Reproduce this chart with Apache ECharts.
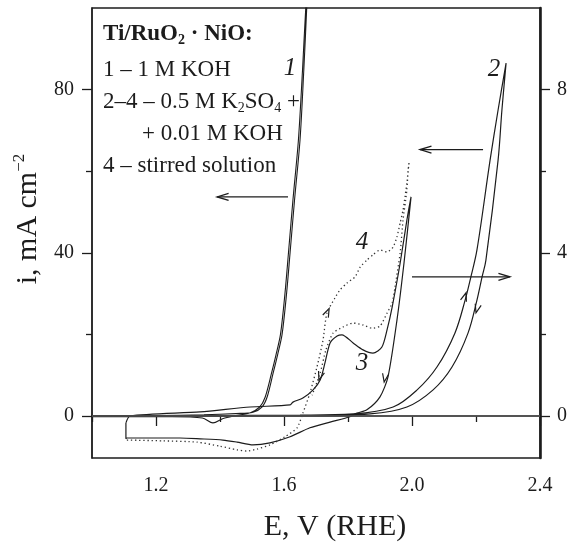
<!DOCTYPE html>
<html>
<head>
<meta charset="utf-8">
<script src="https://cdn.jsdelivr.net/npm/echarts@6/dist/echarts.min.js"></script>
<style>
html, body { margin: 0; padding: 0; background: #fff; }
#chart { width: 570px; height: 542px; }
</style>
</head>
<body>
<div id="chart"></div>
<script>
// E, V (RHE) against i. Curves 1 and 2 are read on the left axis (mA cm-2),
// curves 3 and 4 on the right axis (ten times smaller scale).
var curve1 = [
	[1.000, 0.0], [1.200, 0.1], [1.350, 0.3], [1.450, 0.6], [1.503, 0.9], [1.531, 2.2], [1.547, 4.6],
	[1.566, 10.5], [1.580, 15.0], [1.594, 20.0], [1.608, 30.0], [1.619, 40.0], [1.633, 53.0],
	[1.650, 67.6], [1.662, 85.0], [1.671, 100.0], [1.674, 106.0],
	[1.668, 100.0], [1.658, 85.0], [1.645, 67.6], [1.628, 53.0], [1.614, 40.0], [1.603, 30.0],
	[1.589, 20.0], [1.575, 15.0], [1.561, 10.5], [1.541, 4.6], [1.524, 2.2], [1.495, 0.8],
	[1.450, 0.1], [1.410, -0.6], [1.378, -1.7], [1.345, -0.5], [1.250, -0.2], [1.000, -0.2]
];
var curve2 = [
	[1.000, 0.0], [1.300, 0.1], [1.650, 0.2], [1.816, 0.5], [1.941, 2.2], [2.016, 6.4], [2.078, 12.0],
	[2.134, 20.3], [2.166, 28.4], [2.184, 34.1], [2.203, 40.7], [2.244, 62.7], [2.269, 75.0], [2.294, 86.5],
	[2.281, 75.0], [2.269, 62.7], [2.231, 38.2], [2.219, 34.1], [2.203, 28.4], [2.175, 20.3],
	[2.125, 12.0], [2.066, 6.4], [1.984, 2.2], [1.869, 0.5], [1.650, 0.0], [1.000, -0.1]
];
var curve3 = [
	[1.106, -0.17], [1.119, 0.00], [1.338, 0.10], [1.494, 0.22], [1.619, 0.27], [1.628, 0.34],
	[1.659, 0.44], [1.691, 0.64], [1.713, 0.88], [1.728, 1.30], [1.744, 1.79], [1.766, 1.96],
	[1.781, 1.99], [1.816, 1.79], [1.847, 1.62], [1.878, 1.54], [1.906, 1.69], [1.922, 2.11],
	[1.938, 2.67], [1.963, 3.75], [1.984, 4.80], [1.997, 5.37],
	[1.975, 3.75], [1.953, 2.35], [1.925, 0.96], [1.900, 0.47], [1.859, 0.15], [1.828, 0.07],
	[1.806, -0.02], [1.744, -0.15], [1.681, -0.29], [1.619, -0.51], [1.556, -0.66], [1.503, -0.71],
	[1.453, -0.64], [1.409, -0.59], [1.338, -0.56], [1.275, -0.54], [1.109, -0.54], [1.106, -0.56],
	[1.106, -0.17]
];
var curve4 = [
	[1.109, -0.59], [1.222, -0.61], [1.328, -0.64], [1.400, -0.74], [1.453, -0.83], [1.484, -0.86],
	[1.516, -0.81], [1.556, -0.71], [1.603, -0.51], [1.641, -0.29], [1.659, 0.07], [1.681, 0.56],
	[1.703, 1.20], [1.722, 1.86], [1.734, 2.52], [1.759, 2.89], [1.775, 3.09], [1.797, 3.26],
	[1.822, 3.41], [1.838, 3.65], [1.859, 3.82], [1.878, 3.95], [1.900, 4.07], [1.922, 4.02],
	[1.941, 4.14], [1.953, 4.39], [1.963, 4.73], [1.972, 5.05], [1.978, 5.37], [1.984, 5.71], [1.991, 6.23],
	[1.988, 6.03], [1.984, 5.54], [1.972, 4.80], [1.963, 4.00], [1.947, 3.16], [1.938, 2.77],
	[1.922, 2.52], [1.900, 2.20], [1.875, 2.15], [1.847, 2.23], [1.816, 2.28], [1.784, 2.18],
	[1.753, 2.03], [1.731, 1.62], [1.713, 1.05], [1.688, 0.51]
];

var xMajor = [1.2, 1.6, 2.0, 2.4];
var xMinor = [1.0, 1.4, 1.8, 2.2];
var leftMajor = [0, 40, 80];
var leftMinor = [20, 60];
var rightMajor = [0, 4, 8];
var rightMinor = [2, 6];

// annotations, in left-axis units
var curveLabels = [
	{ text: '1', at: [1.619, 85.2] },
	{ text: '2', at: [2.256, 84.9] },
	{ text: '3', at: [1.844, 12.8] },
	{ text: '4', at: [1.844, 42.6] }
];
var longArrows = [
	{ from: [1.6125, 53.7], to: [1.391, 53.7] },
	{ from: [2.222, 65.3], to: [2.025, 65.3] },
	{ from: [2.000, 34.1], to: [2.306, 34.1] }
];
var smallArrows = [
	{ at: [1.741, 26.3], angle: 65 },
	{ at: [1.709, 8.8], angle: -108 },
	{ at: [1.913, 8.3], angle: -100 },
	{ at: [2.169, 30.2], angle: 72 },
	{ at: [2.200, 25.3], angle: -105 }
];

var serif = '"Liberation Serif", "DejaVu Serif", serif';
var ink = '#1c1c1c';

function minorAxis(pos, min, max, ticks) {
	return {
		type: 'value', position: pos, min: min, max: max,
		axisLine: { show: false },
		axisTick: { customValues: ticks, length: 6, lineStyle: { color: ink, width: 1.3 } },
		axisLabel: { show: false },
		splitLine: { show: false }
	};
}

var chart = echarts.init(document.getElementById('chart'));
var option = {
	animation: false,
	backgroundColor: '#fff',
	grid: { left: 92, right: 30, top: 8, bottom: 84, show: true, borderColor: ink, borderWidth: 1.3, backgroundColor: 'transparent' },
	xAxis: [{
		type: 'value', position: 'bottom', min: 1.0, max: 2.4,
		axisLine: { lineStyle: { color: ink, width: 1.5 } },
		axisTick: { customValues: xMajor, length: 10, lineStyle: { color: ink, width: 1.3 } },
		axisLabel: {
			customValues: xMajor, margin: 18, color: ink, fontFamily: serif, fontSize: 20,
			formatter: function (v) { return v.toFixed(1); }
		},
		splitLine: { show: false }
	}, minorAxis('bottom', 1.0, 2.4, xMinor)],
	yAxis: [{
		type: 'value', position: 'left', min: -10.3, max: 100,
		axisLine: { show: true, lineStyle: { color: ink, width: 1.5 } },
		axisTick: { show: true, customValues: leftMajor, length: 10, lineStyle: { color: ink, width: 1.3 } },
		axisLabel: { customValues: leftMajor, margin: 18, color: ink, fontFamily: serif, fontSize: 20 },
		splitLine: { show: false }
	}, {
		type: 'value', position: 'right', min: -1.03, max: 10,
		axisLine: { show: true, lineStyle: { color: ink, width: 2.6 } },
		axisTick: { show: true, customValues: rightMajor, length: 10, lineStyle: { color: ink, width: 1.3 } },
		axisLabel: { customValues: rightMajor, margin: 17, color: ink, fontFamily: serif, fontSize: 20 },
		splitLine: { show: false }
	}, minorAxis('left', -10.3, 100, leftMinor), minorAxis('right', -1.03, 10, rightMinor)],
	series: [{
		name: '1', type: 'line', data: curve1, xAxisIndex: 0, yAxisIndex: 0,
		symbol: 'none', smooth: 0.3, lineStyle: { color: ink, width: 1.1 }
	}, {
		name: '2', type: 'line', data: curve2, xAxisIndex: 0, yAxisIndex: 0,
		symbol: 'none', smooth: 0.35, lineStyle: { color: ink, width: 1.2 },
		markLine: {
			silent: true, symbol: ['none', 'none'], label: { show: false },
			lineStyle: { color: '#555', width: 1.6, type: 'solid' },
			data: [{ yAxis: 0 }]
		}
	}, {
		name: '3', type: 'line', data: curve3, xAxisIndex: 0, yAxisIndex: 1,
		symbol: 'none', smooth: 0.25, lineStyle: { color: ink, width: 1.2 }
	}, {
		name: '4', type: 'line', data: curve4, xAxisIndex: 0, yAxisIndex: 1,
		symbol: 'none', smooth: 0.2, lineStyle: { color: '#333', width: 1.3, type: [1.3, 2.8] }
	}]
};
chart.setOption(option);

function px(p) {
	return chart.convertToPixel({ xAxisIndex: 0, yAxisIndex: 0 }, p);
}

function chevron(tip, angle, len, spread) {
	var a = angle * Math.PI / 180;
	var back = Math.atan2(Math.sin(a), -Math.cos(a)); // reversed direction, screen y down
	var s = spread * Math.PI / 180;
	return [
		[tip[0] + len * Math.cos(back + s), tip[1] + len * Math.sin(back + s)],
		tip,
		[tip[0] + len * Math.cos(back - s), tip[1] + len * Math.sin(back - s)]
	];
}

function legendLine(x, y, text, rich) {
	return {
		type: 'text', x: x, y: y, silent: true,
		style: { text: text, rich: rich, align: 'left', verticalAlign: 'middle' }
	};
}

var reg = { fontFamily: serif, fontSize: 23, lineHeight: 27, fill: ink };
var sub = { fontFamily: serif, fontSize: 14, lineHeight: 14, fill: ink, verticalAlign: 'bottom' };
var bold = { fontFamily: serif, fontSize: 23, lineHeight: 27, fill: ink, fontWeight: 'bold' };
var boldSub = { fontFamily: serif, fontSize: 14, lineHeight: 14, fill: ink, fontWeight: 'bold', verticalAlign: 'bottom' };

var elements = [
	legendLine(103, 34, '{b|Ti/RuO}{bs|2}{b| · NiO:}', { b: bold, bs: boldSub }),
	legendLine(103, 70, '{r|1 – 1 M KOH}', { r: reg }),
	legendLine(103, 102, '{r|2–4 – 0.5 M K}{s|2}{r|SO}{s|4}{r| +}', { r: reg, s: sub }),
	legendLine(142, 134, '{r|+ 0.01 M KOH}', { r: reg }),
	legendLine(103, 166, '{r|4 – stirred solution}', { r: reg }),
	{
		type: 'text', x: 335, y: 527, silent: true,
		style: { text: 'E, V (RHE)', font: '30px ' + serif, fill: ink, align: 'center', verticalAlign: 'middle' }
	},
	{
		type: 'text', x: 28, y: 219, rotation: Math.PI / 2, silent: true,
		style: {
			text: '{m|i, mA cm}{p|−2}', align: 'center', verticalAlign: 'middle',
			rich: {
				m: { fontFamily: serif, fontSize: 30, lineHeight: 34, fill: ink },
				p: { fontFamily: serif, fontSize: 17, lineHeight: 17, fill: ink, verticalAlign: 'top' }
			}
		}
	}
];

curveLabels.forEach(function (lab) {
	var p = px(lab.at);
	elements.push({
		type: 'text', x: p[0], y: p[1], silent: true,
		style: { text: lab.text, font: 'italic 25px ' + serif, fill: ink, align: 'center', verticalAlign: 'middle' }
	});
});

longArrows.forEach(function (ar) {
	var a = px(ar.from), b = px(ar.to);
	var ang = b[0] > a[0] ? 0 : 180;
	elements.push({
		type: 'line', silent: true,
		shape: { x1: a[0], y1: a[1], x2: b[0], y2: b[1] },
		style: { stroke: ink, lineWidth: 1.3 }
	});
	elements.push({
		type: 'polyline', silent: true,
		shape: { points: chevron(b, ang, 12, 17) },
		style: { stroke: ink, lineWidth: 1.3, fill: null }
	});
});

smallArrows.forEach(function (ar) {
	elements.push({
		type: 'polyline', silent: true,
		shape: { points: chevron(px(ar.at), ar.angle, 9, 20) },
		style: { stroke: ink, lineWidth: 1.2, fill: null }
	});
});

chart.setOption({ graphic: elements });
</script>
</body>
</html>
